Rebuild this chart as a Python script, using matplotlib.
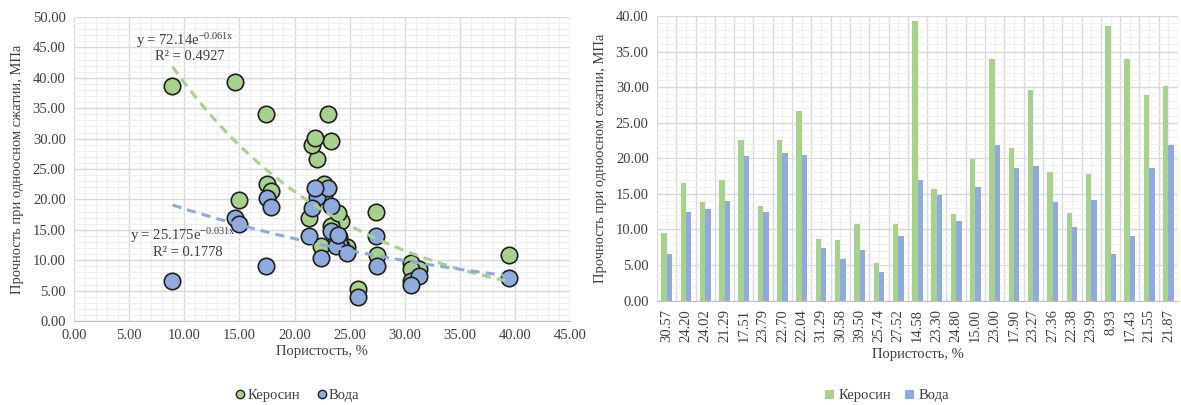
import numpy as np
import matplotlib
matplotlib.use("Agg")
import matplotlib.pyplot as plt
from matplotlib.ticker import MultipleLocator, FixedLocator, NullFormatter
from matplotlib.lines import Line2D
from matplotlib.patches import Patch

plt.rcParams['font.family'] = ['Liberation Serif', 'DejaVu Serif']
plt.rcParams['mathtext.fontset'] = 'custom'
plt.rcParams['mathtext.rm'] = 'Liberation Serif'
plt.rcParams['mathtext.it'] = 'Liberation Serif'

# Porosity of each sample, %, in the order the bars are drawn
porosity = [30.57, 24.20, 24.02, 21.29, 17.51, 23.79, 22.70, 22.04, 31.29,
            30.58, 39.50, 25.74, 27.52, 14.58, 23.30, 24.80, 15.00, 23.00,
            17.90, 23.27, 27.36, 22.38, 23.99, 8.93, 17.43, 21.55, 21.87]
# Uniaxial compressive strength, MPa
kerosene = [9.5, 16.5, 13.8, 16.9, 22.6, 13.3, 22.5, 26.6, 8.6,
            8.5, 10.8, 5.3, 10.8, 39.3, 15.7, 12.1, 19.9, 34.0,
            21.4, 29.6, 18.0, 12.3, 17.8, 38.6, 34.0, 28.9, 30.1]
water = [6.6, 12.4, 12.8, 14.0, 20.3, 12.4, 20.8, 20.4, 7.4,
         5.9, 7.1, 4.0, 9.1, 16.9, 14.8, 11.2, 15.9, 21.8,
         18.7, 18.9, 13.9, 10.4, 14.2, 6.5, 9.0, 18.6, 21.8]
tick_labels = [f"{p:.2f}" for p in porosity]

# Exponential trend fits y = a * exp(b * x)
trend_kerosene = (72.14, -0.061, 0.4927)
trend_water = (25.175, -0.031, 0.1778)

GREEN = '#A9D18E'
BLUE = '#8FAADC'
TXT = '#404040'
GRID_MAJ = '#D9D9D9'
GRID_MIN = '#EFEFEF'

fig = plt.figure(figsize=(11.81, 4.05), dpi=100)

# ---------- scatter: strength vs porosity ----------
ax1 = fig.add_axes([0.0627, 0.2074, 0.42, 0.7506])
ax1.set_xlim(0, 45)
ax1.set_ylim(0, 50)
ax1.xaxis.set_major_locator(MultipleLocator(5))
ax1.yaxis.set_major_locator(MultipleLocator(5))
ax1.xaxis.set_minor_locator(MultipleLocator(1))
ax1.yaxis.set_minor_locator(MultipleLocator(1))
ax1.grid(which='minor', color=GRID_MIN, lw=0.8, zorder=0)
ax1.grid(which='major', color=GRID_MAJ, lw=1.0, zorder=0)
ax1.set_axisbelow(True)
for s in ['top', 'right', 'left']:
    ax1.spines[s].set_visible(False)
ax1.spines['bottom'].set_color('#BFBFBF')
ax1.tick_params(which='both', length=0, labelsize=10.5, colors=TXT, pad=6)
ax1.xaxis.set_major_formatter(lambda v, p: f"{v:.2f}")
ax1.yaxis.set_major_formatter(lambda v, p: f"{v:.2f}")

ax1.scatter(porosity, kerosene, s=140, c=GREEN, edgecolors='#1F1F1F',
            linewidths=1.2, zorder=3)
ax1.scatter(porosity, water, s=140, c=BLUE, edgecolors='#1F1F1F',
            linewidths=1.2, zorder=4)

xs = np.linspace(min(porosity), max(porosity), 200)
a, b, r2 = trend_kerosene
ax1.plot(xs, a * np.exp(b * xs), color=GREEN, lw=2.2, ls=(0, (3, 2)), zorder=5)
a2, b2, r22 = trend_water
ax1.plot(xs, a2 * np.exp(b2 * xs), color=BLUE, lw=2.2, ls=(0, (3, 2)), zorder=5)

ax1.text(10.1, 46.2, rf"y = {a}e$^{{\mathrm{{{b}x}}}}$", ha='center',
         va='center', fontsize=10.5, color=TXT, zorder=6)
ax1.text(10.5, 43.5, f"R² = {r2}", ha='center', va='center',
         fontsize=10.5, color=TXT, zorder=6)
ax1.text(9.9, 14.0, rf"y = {a2}e$^{{\mathrm{{{b2}x}}}}$", ha='center',
         va='center', fontsize=10.5, color=TXT, zorder=6)
ax1.text(10.3, 11.3, f"R² = {r22}", ha='center', va='center',
         fontsize=10.5, color=TXT, zorder=6)

ax1.set_xlabel("Пористость, %", fontsize=10.5, color=TXT, labelpad=2)
ax1.set_ylabel("Прочность при одноосном сжатии, МПа", fontsize=10.5,
               color=TXT, labelpad=6)

h1 = [Line2D([], [], marker='o', ls='', markerfacecolor=GREEN,
             markeredgecolor='#1F1F1F', markersize=6, markeredgewidth=1.0),
      Line2D([], [], marker='o', ls='', markerfacecolor=BLUE,
             markeredgecolor='#1F1F1F', markersize=6, markeredgewidth=1.0)]
fig.legend(h1, ["Керосин", "Вода"], loc='center', ncol=2,
           bbox_to_anchor=(296 / 1181, 1 - 395 / 405), frameon=False,
           fontsize=10.5, handletextpad=0.0, columnspacing=1.0,
           labelcolor=TXT, handlelength=1.0)

# ---------- bar chart: strength per sample ----------
ax2 = fig.add_axes([0.5563, 0.258, 0.4412, 0.7025])
n = len(porosity)
idx = np.arange(n)
w = 0.28
ax2.bar(idx - w / 2, kerosene, width=w, color=GREEN, zorder=3)
ax2.bar(idx + w / 2, water, width=w, color=BLUE, zorder=3)
ax2.set_xlim(-0.5, n - 0.5)
ax2.set_ylim(0, 40)
ax2.yaxis.set_major_locator(MultipleLocator(5))
ax2.yaxis.set_minor_locator(MultipleLocator(1))
ax2.set_xticks(idx)
ax2.set_xticklabels(tick_labels, rotation=90)
ax2.xaxis.set_minor_locator(FixedLocator(np.arange(-0.5, n, 1.0)))
ax2.xaxis.set_minor_formatter(NullFormatter())
# category boundaries carry the strong vertical lines, centres the light ones
ax2.grid(axis='y', which='minor', color=GRID_MIN, lw=0.8, zorder=0)
ax2.grid(axis='y', which='major', color=GRID_MAJ, lw=1.0, zorder=0)
ax2.grid(axis='x', which='major', color=GRID_MIN, lw=0.8, zorder=0)
ax2.grid(axis='x', which='minor', color=GRID_MAJ, lw=1.0, zorder=0)
ax2.set_axisbelow(True)
for s in ['top', 'right', 'left']:
    ax2.spines[s].set_visible(False)
ax2.spines['bottom'].set_color('#BFBFBF')
ax2.tick_params(which='both', length=0, labelsize=10.5, colors=TXT, pad=6)
ax2.yaxis.set_major_formatter(lambda v, p: f"{v:.2f}")
ax2.set_xlabel("Пористость, %", fontsize=10.5, color=TXT, labelpad=4)
ax2.set_ylabel("Прочность при одноосном сжатии, МПа", fontsize=10.5,
               color=TXT, labelpad=6)

h2 = [Patch(facecolor=GREEN), Patch(facecolor=BLUE)]
fig.legend(h2, ["Керосин", "Вода"], loc='center', ncol=2,
           bbox_to_anchor=(887 / 1181, 1 - 396 / 405), frameon=False,
           fontsize=10.5, handletextpad=0.3, columnspacing=1.0,
           labelcolor=TXT, handlelength=0.6, handleheight=0.6)

fig.savefig("out.png", dpi=100, facecolor='white')
